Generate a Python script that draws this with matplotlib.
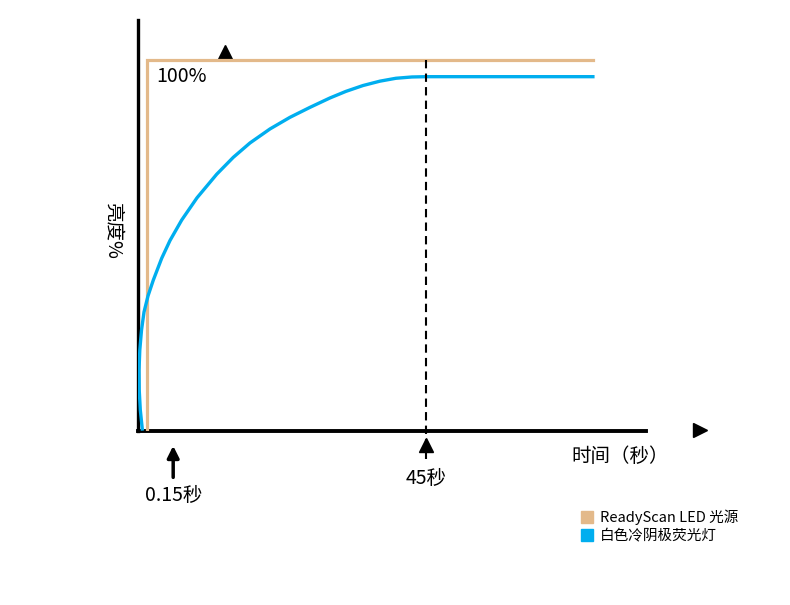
import matplotlib

matplotlib.use("Agg")
import matplotlib.pyplot as plt
from matplotlib.lines import Line2D

plt.rcParams["font.family"] = ["Noto Sans CJK SC", "DejaVu Sans"]

ORANGE, BLUE, INK = "#e3b98a", "#00aeef", "#000000"

# schematic time units (45 = the "45秒" mark), brightness in %
led_t = [1.4, 1.4, 71.1]
led_b = [0, 100, 100]
ccfl_t = [0.67, 0.36, 0.19, 0.16, 0.28, 0.55, 0.94, 1.56, 2.39, 3.70, 5.0,
          6.83, 9.22, 12.30, 14.89, 17.5, 20.63, 23.75, 26.88, 30.0, 32.5,
          35.16, 37.81, 40.31, 42.81, 45.0, 71.1]
ccfl_b = [0.54, 5.66, 11.05, 16.44, 21.83, 27.22, 32.08, 36.39, 40.67, 46.55,
          51.35, 56.87, 62.86, 69.22, 73.77, 77.65, 81.43, 84.56, 87.25, 89.78,
          91.56, 93.13, 94.31, 95.09, 95.44, 95.52, 95.52]
mark_45 = 45
mark_fast = 5.5
labels = ["ReadyScan LED 光源", "白色冷阴极荧光灯"]

fig = plt.figure(figsize=(7.9, 6.05), dpi=100)
ax = fig.add_axes([138 / 790, 174 / 605, 508 / 790, 411 / 605])
ax.set_xlim(0, 79.4)
ax.set_ylim(0, 110.8)
ax.spines[["top", "right"]].set_visible(False)
ax.spines["left"].set_linewidth(2.4)
ax.spines["bottom"].set_linewidth(2.8)
ax.set_xticks([])
ax.set_yticks([])

ax.plot(led_t, led_b, color=ORANGE, lw=2.3, solid_joinstyle="miter", zorder=3)
ax.plot(ccfl_t, ccfl_b, color=BLUE, lw=2.4, solid_joinstyle="round",
        antialiased=True, zorder=4)

# 45 s marker: dashed guide through the axis, with a triangle under it
ax.plot([mark_45, mark_45], [100, -7.5], color=INK, lw=1.5, ls=(0, (4, 2.5)),
        clip_on=False, zorder=5)
ax.plot(mark_45, -3.8, marker="^", ms=10, color=INK, clip_on=False, zorder=6)
ax.text(mark_45, -12.8, "45秒", ha="center", va="center", fontsize=14)

# axis arrows
ax.plot(87.8, 0.3, marker=">", ms=10, color=INK, clip_on=False)
ax.plot(13.6, 102.2, marker="^", ms=10, color=INK, clip_on=False)

# 0.15 s arrow
ax.annotate("", xy=(mark_fast, -4), xytext=(mark_fast, -12.5),
            arrowprops=dict(arrowstyle="-|>,head_length=0.7,head_width=0.35",
                            color=INK, lw=2.5, shrinkA=0, shrinkB=0),
            annotation_clip=False)
ax.text(mark_fast, -17.5, "0.15秒", ha="center", va="center", fontsize=14)

ax.text(2.9, 95.5, "100%", ha="left", va="center", fontsize=14)
ax.text(75.3, -7.0, "时间（秒）", ha="center", va="center", fontsize=14)
ax.text(-4.0, 53.9, "亮度%", ha="center", va="center", fontsize=14,
        rotation=-90)

handles = [Line2D([], [], marker="s", ls="", ms=8, color=c) for c in (ORANGE, BLUE)]
fig.legend(handles, labels, loc="upper left", bbox_to_anchor=(574 / 790, 1 - 502 / 605),
           frameon=False, fontsize=10.5, handlelength=0.8, handletextpad=0.5,
           labelspacing=0.3, borderpad=0)

fig.savefig("out.png", dpi=100, facecolor="white")
